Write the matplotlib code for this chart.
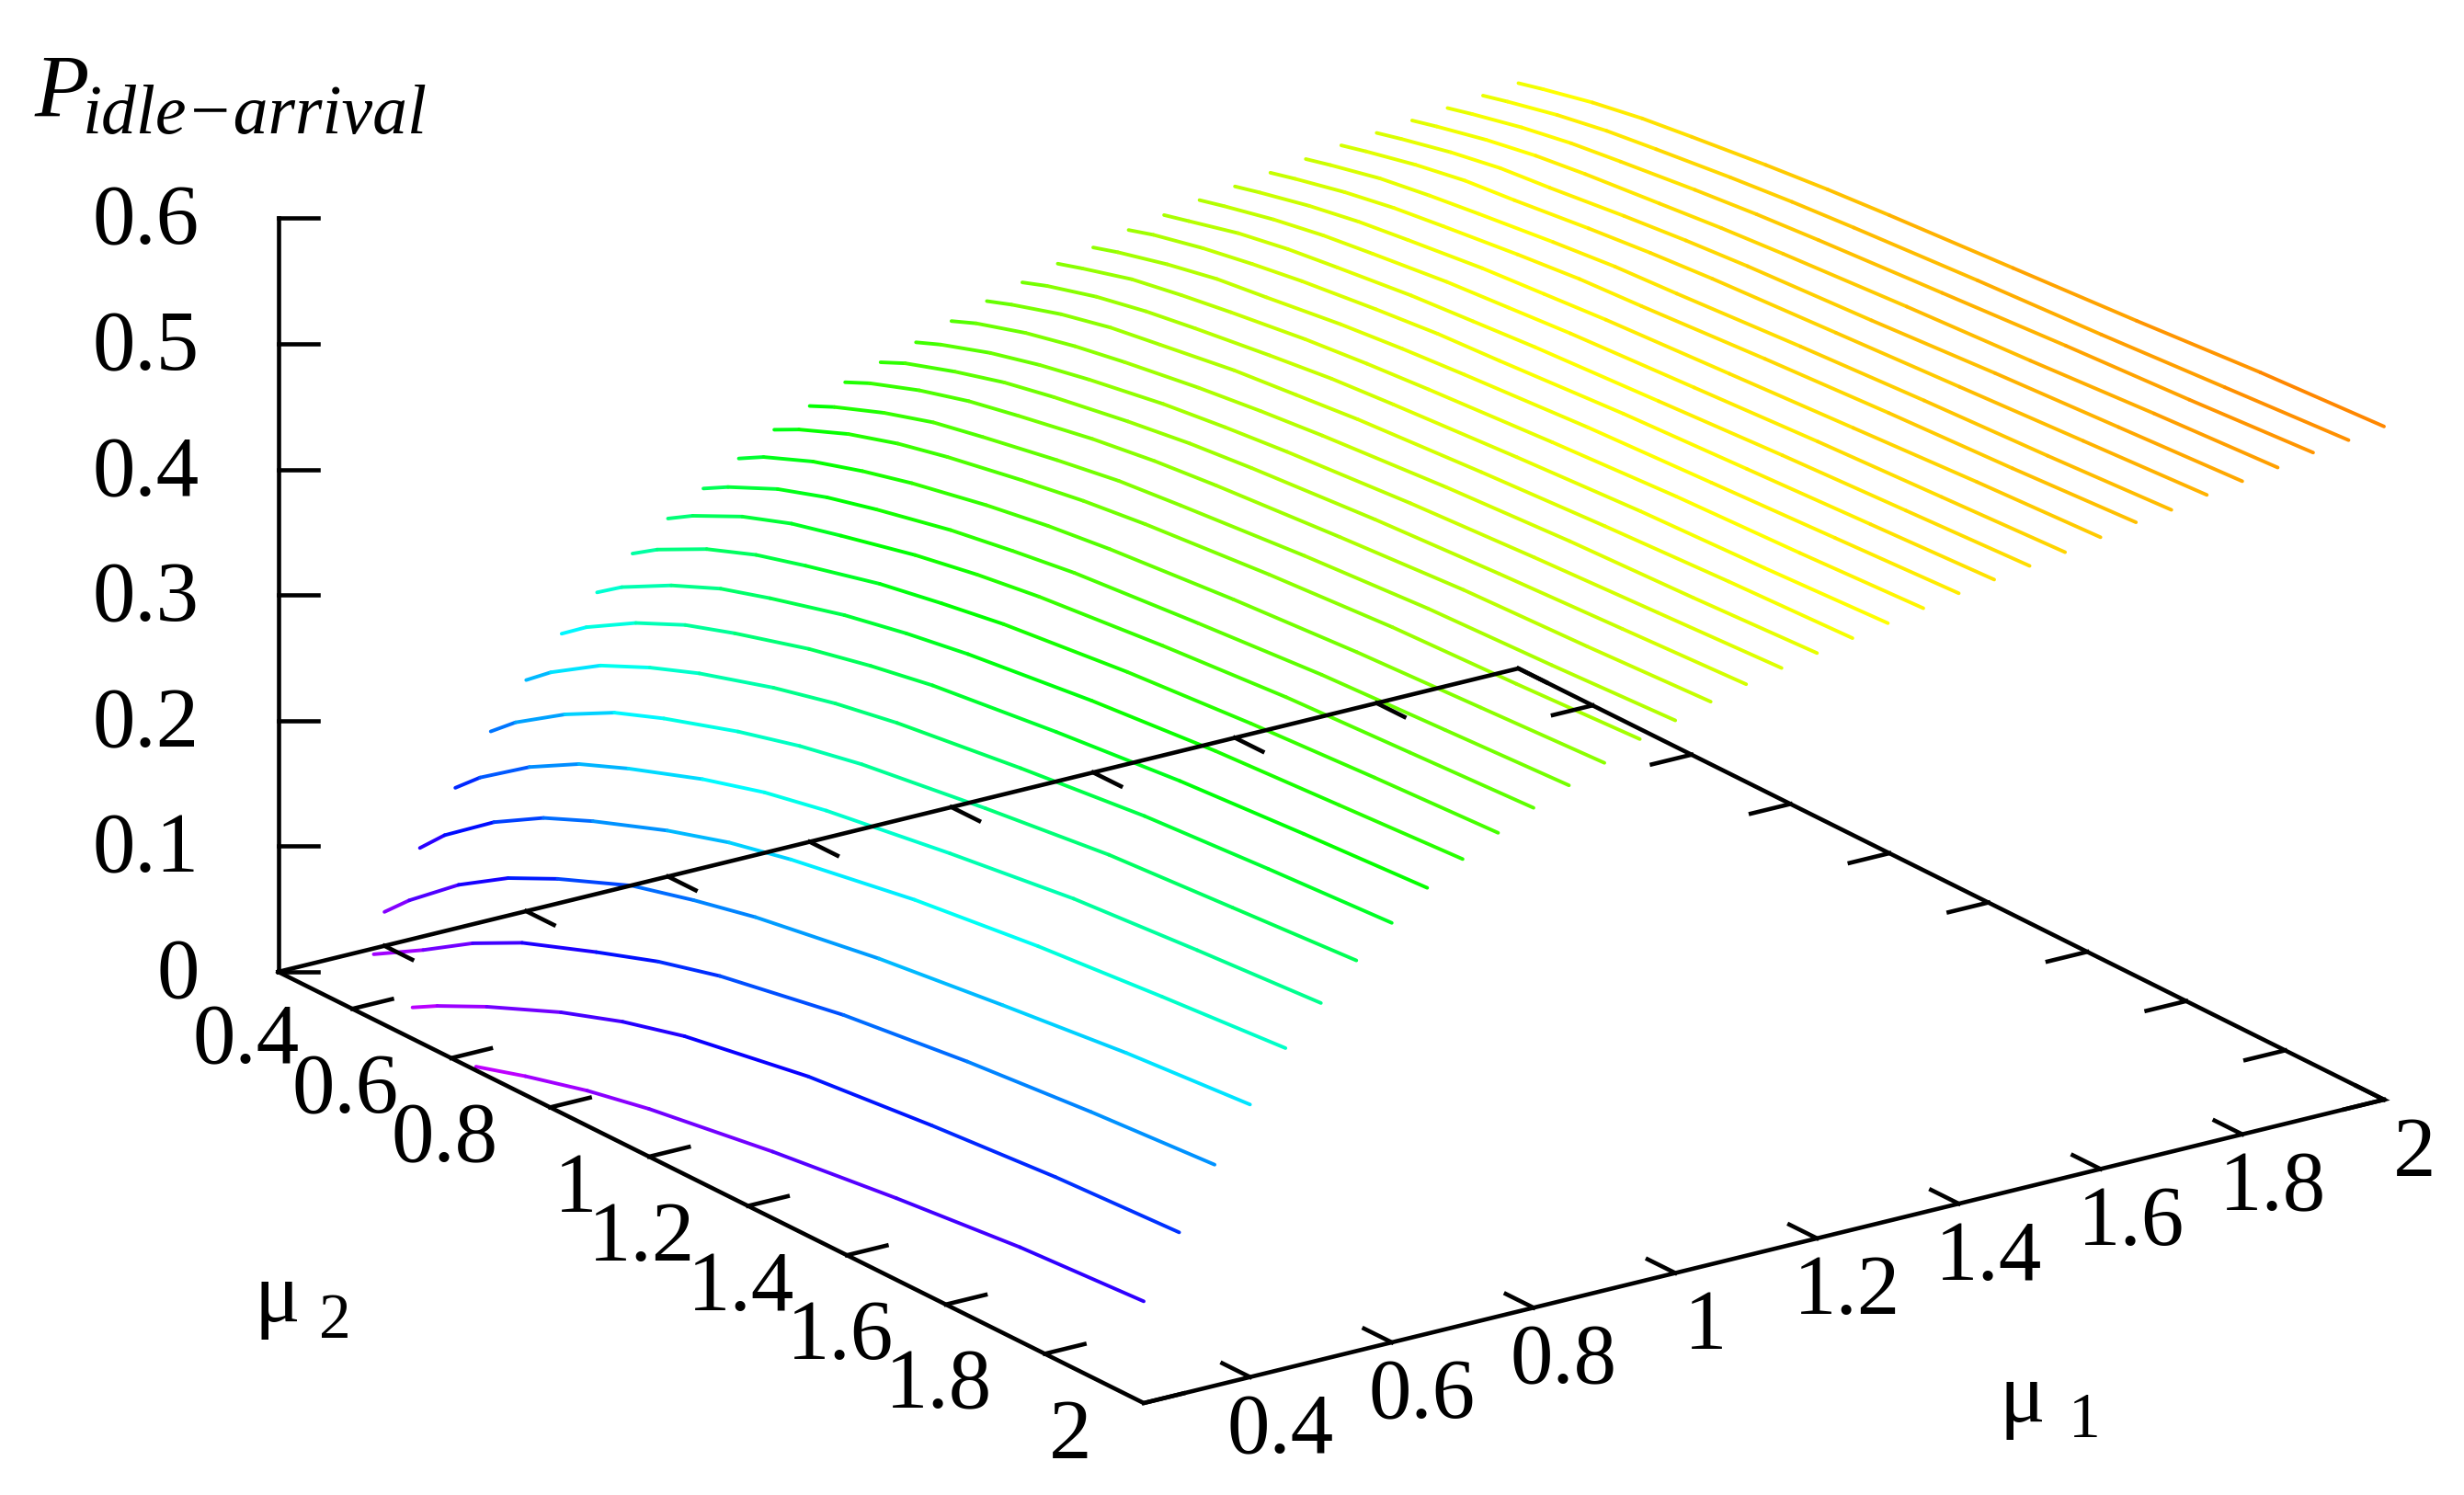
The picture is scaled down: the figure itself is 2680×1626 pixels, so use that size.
import numpy as np
import matplotlib
matplotlib.use('Agg')
import matplotlib.pyplot as plt
from matplotlib.collections import LineCollection
from matplotlib.colors import LinearSegmentedColormap, Normalize

plt.rcParams['font.family'] = ['Liberation Serif', 'DejaVu Sans']

# values
mu2_grid = [0.25, 0.3, 0.4, 0.5, 0.6, 0.75, 0.875, 1.0, 1.25, 1.5, 1.75, 2.0]
mu1_values = [0.4, 0.45, 0.5, 0.55, 0.6, 0.65, 0.7, 0.75, 0.8, 0.85, 0.9, 0.95, 1.0,
              1.05, 1.1, 1.15, 1.2, 1.25, 1.3, 1.35, 1.4, 1.45, 1.5, 1.55, 1.6, 1.65,
              1.7, 1.75, 1.8, 1.85, 1.9, 1.95, 2.0]
p_rows = [
    [.027, .046, .078, .103, .122, .146, .159, .170, .186, .198, .209, .217],
    [.071, .091, .121, .144, .161, .183, .198, .209, .226, .238, .247, .255],
    [.112, .130, .158, .180, .196, .217, .231, .241, .256, .269, .277, .284],
    [.150, .167, .193, .214, .229, .248, .261, .271, .285, .297, .304, .311],
    [.184, .200, .225, .243, .258, .276, .288, .297, .310, .321, .328, .334],
    [.214, .229, .252, .270, .283, .300, .311, .320, .332, .342, .349, .355],
    [.240, .254, .275, .292, .304, .320, .330, .338, .350, .359, .365, .371],
    [.264, .277, .297, .312, .323, .338, .347, .355, .366, .374, .380, .385],
    [.285, .297, .316, .330, .340, .354, .363, .370, .380, .388, .393, .398],
    [.302, .313, .331, .344, .354, .367, .375, .382, .391, .399, .404, .409],
    [.319, .330, .346, .358, .368, .380, .388, .394, .403, .410, .415, .420],
    [.335, .345, .361, .373, .382, .393, .401, .407, .416, .423, .427, .432],
    [.347, .356, .371, .383, .391, .402, .410, .415, .424, .431, .435, .440],
    [.359, .368, .382, .393, .401, .412, .419, .424, .432, .439, .443, .448],
    [.368, .377, .390, .401, .409, .419, .426, .431, .439, .445, .450, .455],
    [.377, .385, .398, .408, .416, .426, .432, .437, .445, .451, .456, .461],
    [.387, .395, .407, .416, .423, .432, .438, .443, .451, .457, .461, .466],
    [.396, .403, .415, .424, .430, .439, .444, .449, .456, .462, .467, .471],
    [.404, .411, .422, .430, .436, .444, .450, .454, .461, .467, .471, .476],
    [.412, .418, .429, .436, .442, .450, .455, .459, .466, .472, .476, .481],
    [.418, .424, .434, .442, .447, .455, .460, .464, .471, .476, .481, .486],
    [.425, .431, .440, .447, .453, .460, .465, .468, .475, .480, .485, .490],
    [.430, .435, .445, .452, .457, .464, .468, .472, .478, .484, .489, .494],
    [.435, .440, .449, .456, .461, .468, .472, .476, .482, .488, .493, .498],
    [.439, .444, .453, .460, .465, .472, .476, .480, .486, .492, .498, .503],
    [.443, .448, .457, .464, .469, .476, .481, .484, .491, .497, .502, .508],
    [.447, .452, .461, .467, .472, .479, .484, .487, .494, .500, .505, .511],
    [.451, .456, .465, .472, .476, .483, .488, .492, .498, .504, .510, .516],
    [.454, .459, .468, .475, .479, .486, .491, .495, .501, .508, .514, .520],
    [.457, .462, .471, .478, .483, .489, .494, .498, .505, .511, .518, .524],
    [.460, .465, .474, .481, .486, .493, .498, .502, .509, .516, .522, .529],
    [.463, .468, .477, .484, .489, .496, .501, .505, .512, .518, .525, .532],
    [.466, .471, .480, .487, .492, .499, .504, .508, .515, .522, .530, .536],
]
# the three lowest curves start further along mu2
short_mu1 = [0.25, 0.3, 0.35]
short_mu2 = [[0.65, 0.75, 0.875, 1.0, 1.25, 1.5, 1.75, 2.0],
             [0.45, 0.5, 0.6, 0.75, 0.875, 1.0, 1.25, 1.5, 1.75, 2.0],
             [0.3, 0.4, 0.5, 0.6, 0.75, 0.875, 1.0, 1.25, 1.5, 1.75, 2.0]]
short_p = [[.003, .015, .028, .038, .053, .065, .075, .081],
           [.004, .015, .034, .059, .076, .089, .106, .116, .124, .129],
           [.010, .033, .058, .078, .100, .117, .130, .148, .160, .169, .176]]

z_ticks = [0, 0.1, 0.2, 0.3, 0.4, 0.5, 0.6]
xy_ticks = [0.4, 0.6, 0.8, 1, 1.2, 1.4, 1.6, 1.8, 2]
mu_min, mu_max = 0.25, 2.0

# gnuplot style oblique view, screen pixels
ORIGIN = np.array([302.5, 1057.0])
MU1_VEC = np.array([1349.0, -330.0])
MU2_VEC = np.array([941.5, 469.0])
Z_SCALE = 1366.0


def project(m1, m2, z=0.0):
    a = (np.asarray(m1, dtype=float) - mu_min) / (mu_max - mu_min)
    b = (np.asarray(m2, dtype=float) - mu_min) / (mu_max - mu_min)
    x = ORIGIN[0] + a * MU1_VEC[0] + b * MU2_VEC[0]
    y = ORIGIN[1] + a * MU1_VEC[1] + b * MU2_VEC[1] - np.asarray(z, dtype=float) * Z_SCALE
    return x, y


fig = plt.figure(figsize=(26.8, 16.26), dpi=100)
ax = fig.add_axes([0, 0, 1, 1])
ax.set_xlim(0, 2680)
ax.set_ylim(1626, 0)
ax.axis('off')

cmap = LinearSegmentedColormap.from_list('hue', [(0, '#cc00ff'), (0.167, '#0000ff'), (0.375, '#00ffff'),
                                                 (0.583, '#00ff00'), (0.792, '#ffff00'), (1, '#ff0000')])
norm = Normalize(0, 0.6)


def draw_curve(m1, m2s, ps):
    x, y = project(m1, m2s, ps)
    pts = np.column_stack([x, y])
    segs = np.stack([pts[:-1], pts[1:]], axis=1)
    ps = np.asarray(ps)
    lc = LineCollection(segs, colors=cmap(norm((ps[:-1] + ps[1:]) / 2)), linewidths=2.8, capstyle='round')
    ax.add_collection(lc)


for m1, m2s, ps in zip(short_mu1, short_mu2, short_p):
    draw_curve(m1, m2s, ps)
for m1, ps in zip(mu1_values, p_rows):
    draw_curve(m1, mu2_grid, ps)

# base rectangle and z axis
corners = [(mu_min, mu_min), (mu_min, mu_max), (mu_max, mu_max), (mu_max, mu_min), (mu_min, mu_min)]
bx, by = project([c[0] for c in corners], [c[1] for c in corners])
ax.plot(bx, by, color='black', lw=3.3, zorder=5, solid_joinstyle='miter')
zx, zy = project([mu_min, mu_min], [mu_min, mu_min], [0, 0.6])
ax.plot(zx, zy, color='black', lw=3.3, zorder=5)

tick_frac = 0.032 * (mu_max - mu_min)
for t in xy_ticks:
    # mu2 ticks on both long edges, mu1 ticks on the other two
    x, y = project([mu_min, mu_min + tick_frac], [t, t])
    ax.plot(x, y, color='black', lw=3.3, zorder=5)
    x, y = project([mu_max, mu_max - tick_frac], [t, t])
    ax.plot(x, y, color='black', lw=3.3, zorder=5)
    x, y = project([t, t], [mu_max, mu_max - tick_frac])
    ax.plot(x, y, color='black', lw=3.3, zorder=5)
    x, y = project([t, t], [mu_min, mu_min + tick_frac])
    ax.plot(x, y, color='black', lw=3.3, zorder=5)

    lab = f'{t:g}'
    x, y = project(mu_min, t)
    ax.text(x - 57, y + 37, lab, fontsize=67, ha='right', va='center')
    x, y = project(t, mu_max)
    ax.text(x + 33, y + 60, lab, fontsize=67, ha='center', va='center')

for t in z_ticks:
    x, y = project(mu_min, mu_min, t)
    ax.plot([x, x + 43], [y, y], color='black', lw=3.3, zorder=5)
    ax.text(x - 86, y + 6, f'{t:g}', fontsize=67, ha='right', va='center')

ax.text(38, 103, 'P', fontsize=70, style='italic', ha='left', va='center')
ax.text(90, 126, 'idle\u2212arrival', fontsize=54.5, style='italic', ha='left', va='center')
ax.text(276, 1414, '\u03bc', fontsize=67, ha='left', va='center')
ax.text(347, 1438, '2', fontsize=50, ha='left', va='center')
ax.text(2175, 1523, '\u03bc', fontsize=67, ha='left', va='center')
ax.text(2250, 1546, '1', fontsize=50, ha='left', va='center')

fig.savefig('out.png', dpi=100)
